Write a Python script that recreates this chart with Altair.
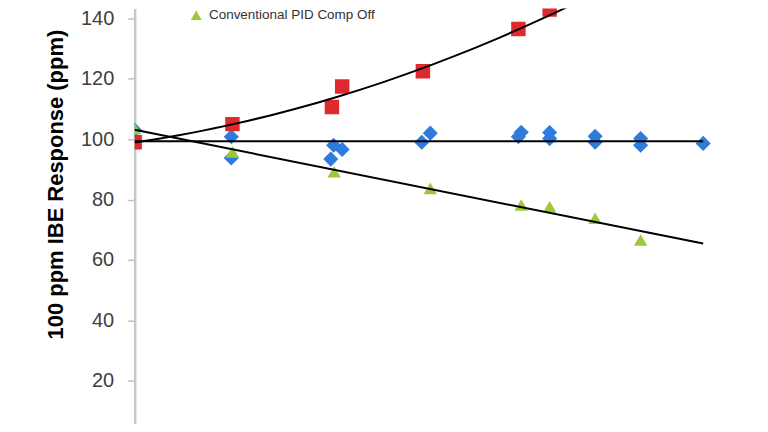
import altair as alt
import pandas as pd

# ---- data ----
blue_x = [0, 17, 17, 34.5, 35, 36.5, 50.5, 52, 67.5, 68, 73, 73, 81, 81, 89, 89, 100]
blue_y = [103, 100.8, 93.8, 93.4, 98, 96.6, 99, 102, 100.8, 102.3, 102.2, 100.2, 101, 99, 100.2, 98, 98.6]

red_x = [0, 17.2, 34.7, 36.5, 50.7, 67.5, 73, 81]
red_y = [99, 105, 110.7, 117.5, 122.5, 136.5, 143, 147]

green_name = "Conventional PID Comp Off"
green_x = [0, 17.2, 35.1, 52, 68, 73, 81, 89]
green_y = [103.5, 95.8, 89.2, 83.7, 78.2, 77.6, 73.8, 66.6]

y_ticks = [20, 40, 60, 80, 100, 120, 140]

BLUE = "#2f7bdc"
RED = "#e0292f"
GREEN = "#9dc83a"

blue = pd.DataFrame({"x": blue_x, "y": blue_y})
red = pd.DataFrame({"x": red_x, "y": red_y})
green = pd.DataFrame({"x": green_x, "y": green_y, "s": [green_name] * len(green_x)})

xs = alt.Scale(domain=[0, 110], nice=False, zero=False)
ys = alt.Scale(domain=[5.8, 143.3], nice=False, zero=False)

yaxis = alt.Axis(
    values=y_ticks,
    grid=False,
    title="100 ppm IBE Response (ppm)",
    titleFont="Liberation Sans",
    titleFontSize=22,
    titleFontWeight="bold",
    titleColor="#000000",
    titleAngle=270,
    titleAlign="center",
    titleBaseline="middle",
    titleX=-79,
    titleY=176,
    labelFont="Liberation Sans",
    labelFontSize=20,
    labelColor="#404040",
    labelPadding=14,
    tickSize=7,
    tickColor="#bfbfbf",
    tickWidth=1.5,
    domainColor="#c8c8c8",
    domainWidth=2.5,
)

X = alt.X("x:Q", scale=xs, axis=None)
Y = alt.Y("y:Q", scale=ys, axis=yaxis)


def points(df, shape, color, size):
    return alt.Chart(df).mark_point(
        shape=shape, filled=True, color=color, size=size, opacity=1, clip=True
    ).encode(x=X, y=Y)


def trend(df, **kw):
    return alt.Chart(df).transform_regression(
        "x", "y", extent=[0, 100], **kw
    ).mark_line(color="black", strokeWidth=2, clip=True).encode(x=X, y=Y)


# flat trend (mean level) for the compensated series
blue_trend = alt.Chart(blue).transform_joinaggregate(
    mean_y="mean(y)"
).mark_line(color="black", strokeWidth=2, clip=True).encode(
    x=X, y=alt.Y("mean_y:Q", scale=ys, axis=yaxis)
)

leg = alt.Legend(
    title=None,
    orient="none",
    legendX=55,
    legendY=0,
    values=[green_name],
    labelFont="Liberation Sans",
    labelFontSize=13.5,
    labelColor="#333333",
    labelLimit=400,
    symbolSize=120,
    symbolStrokeWidth=0,
    labelOffset=6,
    padding=0,
)

green_pts = alt.Chart(green).mark_point(
    filled=True, size=180, opacity=1, clip=True
).encode(
    x=X,
    y=Y,
    color=alt.Color("s:N", scale=alt.Scale(domain=[green_name], range=[GREEN]), legend=leg),
    shape=alt.Shape("s:N", scale=alt.Scale(domain=[green_name], range=["triangle-up"]), legend=leg),
)

chart = alt.layer(
    points(blue, "diamond", BLUE, 230),
    points(red, "square", RED, 210),
    green_pts,
    trend(red, method="poly", order=2),
    blue_trend,
    trend(green, method="linear"),
).properties(
    width=627,
    height=416,
    autosize=alt.AutoSizeParams(type="none"),
    padding={"left": 127, "top": 0, "right": 0, "bottom": 0},
).configure_view(stroke=None)

chart.save("out.html", embed_options={"renderer": "svg", "actions": False})
